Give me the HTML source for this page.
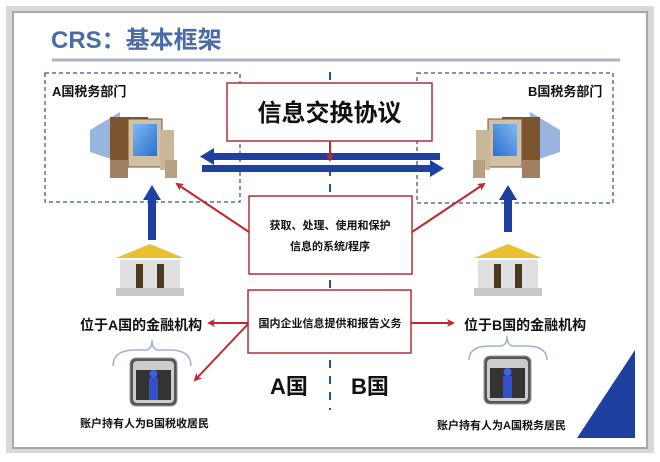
<!DOCTYPE html>
<html><head><meta charset="utf-8"><style>
body{margin:0;background:#fff;}
svg text{font-family:"Liberation Sans","Noto Sans CJK SC",sans-serif;font-weight:bold;}
</style></head><body>
<svg width="660" height="457" viewBox="0 0 660 457" xmlns="http://www.w3.org/2000/svg">
<defs>
<marker id="r" markerWidth="8" markerHeight="8" refX="6" refY="4" orient="auto" markerUnits="userSpaceOnUse"><path d="M0,0 L8,4 L0,8 L2,4z" fill="#c0282d"/></marker>
<linearGradient id="scr" x1="0" y1="0" x2="1" y2="1"><stop offset="0" stop-color="#7fb8f0"/><stop offset="1" stop-color="#2c6fd0"/></linearGradient>
</defs>
<rect x="0" y="0" width="660" height="457" fill="#fff"/>
<rect x="6" y="6" width="648" height="447" fill="#d8d8d8"/>
<rect x="13" y="12" width="634" height="436" fill="#fff" stroke="#a8a8a8" stroke-width="2"/>
<text x="51" y="48" font-size="24" fill="#4a6aa8">CRS：基本框架</text>
<line x1="52" y1="60" x2="620" y2="60" stroke="#aab4c8" stroke-width="3"/>
<!-- dashed boxes -->
<rect x="45" y="73" width="195" height="129" fill="none" stroke="#5570a0" stroke-width="1.5" stroke-dasharray="4,3"/>
<rect x="417" y="73" width="196" height="130" fill="none" stroke="#5570a0" stroke-width="1.5" stroke-dasharray="4,3"/>
<line x1="330" y1="72" x2="330" y2="410" stroke="#2850a0" stroke-width="2" stroke-dasharray="8,8"/>
<text x="52" y="96" font-size="13" fill="#111">A国税务部门</text>
<text x="528" y="96" font-size="13" fill="#111">B国税务部门</text>
<!-- computers -->
<g transform="translate(110,122)">
<path d="M-20,8 L10,-10 L10,40 L-20,30z" fill="#9ab4e0"/>
<rect x="0" y="-5" width="38" height="45" fill="#7a5530"/>
<rect x="18" y="-3" width="34" height="48" fill="#d0c0a8" stroke="#7a5530"/>
<rect x="23" y="2" width="24" height="32" fill="url(#scr)"/>
<rect x="50" y="8" width="14" height="40" fill="#c8b898"/>
<rect x="0" y="38" width="18" height="18" fill="#a08060"/>
<rect x="55" y="38" width="12" height="18" fill="#b8a080"/>
</g>
<g transform="translate(540,122) scale(-1,1)">
<path d="M-20,8 L10,-10 L10,40 L-20,30z" fill="#9ab4e0"/>
<rect x="0" y="-5" width="38" height="45" fill="#7a5530"/>
<rect x="18" y="-3" width="34" height="48" fill="#d0c0a8" stroke="#7a5530"/>
<rect x="23" y="2" width="24" height="32" fill="url(#scr)"/>
<rect x="50" y="8" width="14" height="40" fill="#c8b898"/>
<rect x="0" y="38" width="18" height="18" fill="#a08060"/>
<rect x="55" y="38" width="12" height="18" fill="#b8a080"/>
</g>
<!-- horizontal blue arrows -->
<rect x="210" y="153" width="230" height="7" fill="#1e40a0"/>
<path d="M200,156.5 L214,148 L214,165z" fill="#1e40a0"/>
<rect x="202" y="165" width="230" height="7" fill="#1e40a0"/>
<path d="M444,168.5 L430,160 L430,177z" fill="#1e40a0"/>
<!-- top box -->
<rect x="227" y="83" width="205" height="58" fill="#fff" stroke="#b03038" stroke-width="1.5"/>
<text x="329.5" y="121" font-size="24" fill="#111" text-anchor="middle">信息交换协议</text>
<line x1="330" y1="141" x2="330" y2="160" stroke="#c0282d" stroke-width="2" marker-end="url(#r)"/>
<!-- vertical blue arrows -->
<rect x="148" y="198" width="8" height="42" fill="#1e40a0"/>
<path d="M152,185 L143,200 L161,200z" fill="#1e40a0"/>
<rect x="504" y="198" width="8" height="34" fill="#1e40a0"/>
<path d="M508,185 L499,200 L517,200z" fill="#1e40a0"/>
<!-- middle box -->
<rect x="249" y="196" width="163" height="78" fill="#fff" stroke="#b03038" stroke-width="1.5"/>
<text x="330" y="229" font-size="11" fill="#111" text-anchor="middle">获取、处理、使用和保护</text>
<text x="330" y="250" font-size="11" fill="#111" text-anchor="middle">信息的系统/程序</text>
<line x1="249" y1="232" x2="177" y2="184" stroke="#c0282d" stroke-width="2" marker-end="url(#r)"/>
<line x1="412" y1="232" x2="484" y2="184" stroke="#c0282d" stroke-width="2" marker-end="url(#r)"/>
<!-- banks -->
<g transform="translate(150,238)">
<path d="M-34,20 L0,6 L34,20z" fill="#e8c030"/>
<rect x="-30" y="22" width="60" height="28" fill="#e0e0e0"/>
<rect x="-14" y="26" width="7" height="24" fill="#4a3a20"/><rect x="7" y="26" width="7" height="24" fill="#4a3a20"/>
<rect x="-34" y="50" width="68" height="8" fill="#c8c8c8"/>
</g>
<g transform="translate(508,238)">
<path d="M-34,20 L0,6 L34,20z" fill="#e8c030"/>
<rect x="-30" y="22" width="60" height="28" fill="#e0e0e0"/>
<rect x="-14" y="26" width="7" height="24" fill="#4a3a20"/><rect x="7" y="26" width="7" height="24" fill="#4a3a20"/>
<rect x="-34" y="50" width="68" height="8" fill="#c8c8c8"/>
</g>
<text x="80" y="330" font-size="14" fill="#111">位于A国的金融机构</text>
<text x="464" y="330" font-size="14" fill="#111">位于B国的金融机构</text>
<!-- bottom box -->
<rect x="248" y="290" width="163" height="63" fill="#fff" stroke="#b03038" stroke-width="1.5"/>
<text x="330" y="327" font-size="11" fill="#111" text-anchor="middle">国内企业信息提供和报告义务</text>
<line x1="248" y1="323" x2="209" y2="323" stroke="#c0282d" stroke-width="2" marker-end="url(#r)"/>
<line x1="411" y1="323" x2="453" y2="323" stroke="#c0282d" stroke-width="2" marker-end="url(#r)"/>
<line x1="248" y1="324" x2="195" y2="380" stroke="#c0282d" stroke-width="2" marker-end="url(#r)"/>
<!-- braces -->
<path d="M113,366 Q113,350 135,350 L145,350 Q152,350 152,340 Q152,350 159,350 L170,350 Q191,350 191,366" fill="none" stroke="#a0b0d0" stroke-width="1.5"/>
<path d="M469,360 Q469,346 490,346 L500,346 Q507,346 507,336 Q507,346 514,346 L526,346 Q547,346 547,360" fill="none" stroke="#a0b0d0" stroke-width="1.5"/>
<!-- people icons -->
<g transform="translate(130,358)">
<rect x="0" y="0" width="47" height="48" rx="6" fill="#555" stroke="#999"/>
<rect x="3" y="3" width="41" height="42" rx="4" fill="#ccc"/>
<rect x="6" y="12" width="35" height="30" fill="#333"/>
<circle cx="23.5" cy="16" r="4" fill="#4060e0"/><rect x="19" y="20" width="9" height="22" fill="#3050d0"/>
</g>
<g transform="translate(484,356)">
<rect x="0" y="0" width="47" height="48" rx="6" fill="#555" stroke="#999"/>
<rect x="3" y="3" width="41" height="42" rx="4" fill="#ccc"/>
<rect x="6" y="12" width="35" height="30" fill="#333"/>
<circle cx="23.5" cy="16" r="4" fill="#4060e0"/><rect x="19" y="20" width="9" height="22" fill="#3050d0"/>
</g>
<text x="80" y="427" font-size="11" fill="#111">账户持有人为B国税收居民</text>
<text x="437" y="429" font-size="11" fill="#111">账户持有人为A国税务居民</text>
<text x="270" y="394" font-size="22" fill="#111">A国</text>
<text x="351" y="394" font-size="22" fill="#111">B国</text>
<path d="M577,438 L635,350 L635,438z" fill="#1e40a0"/>
</svg>
</body></html>
